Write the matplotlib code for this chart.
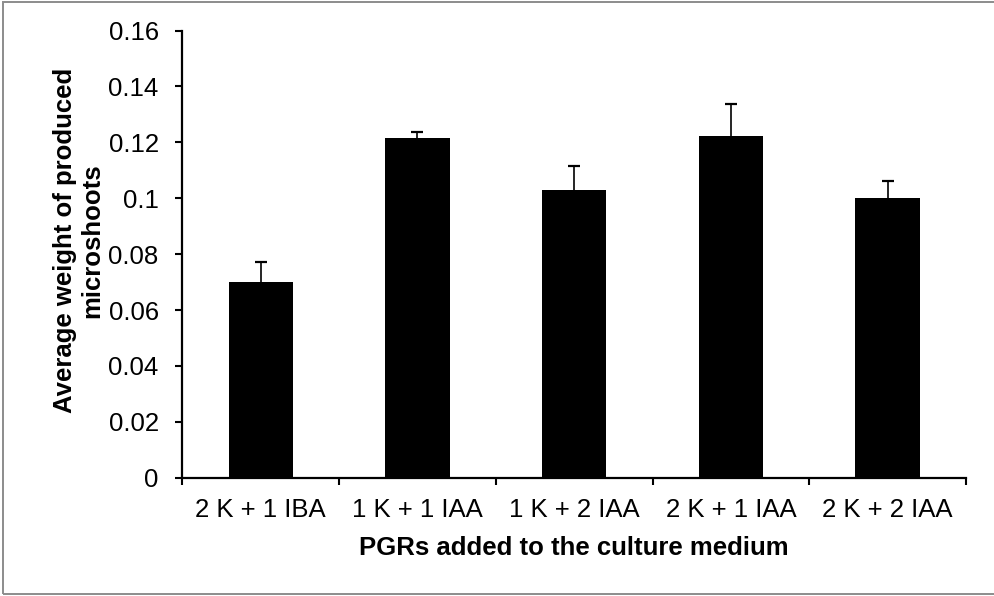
import matplotlib
matplotlib.use("Agg")
import matplotlib.pyplot as plt
from matplotlib.patches import Rectangle
import numpy as np

plt.rcParams['font.family'] = ['Liberation Sans', 'DejaVu Sans']

treatments = ['2 K + 1 IBA', '1 K + 1 IAA', '1 K + 2 IAA', '2 K + 1 IAA', '2 K + 2 IAA']
mean_weight = [0.0699, 0.1216, 0.1031, 0.1221, 0.1001]
err_up = [0.0073, 0.0021, 0.0084, 0.0116, 0.0060]

fig = plt.figure(figsize=(9.94, 5.96), dpi=100)
ax = fig.add_axes([0.1834, 0.1985, 0.7884, 0.7503])

x = np.arange(len(treatments))
ax.bar(x, mean_weight, width=0.41, color='black', zorder=2)
eb = ax.errorbar(x, mean_weight, yerr=[np.zeros(len(err_up)), err_up], fmt='none',
                 ecolor='black', elinewidth=1.2, capsize=4.3, capthick=1.6, zorder=3)
# only the upper half is shown, so drop the caps sitting on the bar tops
eb[1][0].set_visible(False)

ax.set_xlim(-0.5, len(treatments) - 0.5)
ax.set_ylim(0, 0.16)
ax.set_yticks(np.arange(0, 0.161, 0.02))
ax.set_yticklabels(['0', '0.02', '0.04', '0.06', '0.08', '0.1', '0.12', '0.14', '0.16'])
ax.set_xticks(x)
ax.set_xticklabels(treatments)
ax.set_xticks(np.arange(-0.5, len(treatments)), minor=True)

ax.tick_params(axis='y', direction='out', length=5, width=1.5, labelsize=18.5, pad=12)
ax.tick_params(axis='x', which='major', length=0, labelsize=18.5, pad=14.5)
ax.tick_params(axis='x', which='minor', direction='out', length=5, width=1.5)

for s in ['top', 'right']:
    ax.spines[s].set_visible(False)
for s in ['left', 'bottom']:
    ax.spines[s].set_linewidth(1.6)

ax.set_xlabel('PGRs added to the culture medium', fontsize=18.5, fontweight='bold', labelpad=10)
ax.set_ylabel('Average weight of produced\nmicroshoots', fontsize=18.5, fontweight='bold',
              linespacing=1.15)
ax.yaxis.set_label_coords(-0.1, 0.531)

# grey frame round the chart (right side runs off the picture)
fig.patches.append(Rectangle((3 / 994, 2 / 596), 1000 / 994, 592 / 596, transform=fig.transFigure,
                             fill=False, edgecolor='#8c8c8c', linewidth=1.4))

fig.savefig('out.png', dpi=100)
